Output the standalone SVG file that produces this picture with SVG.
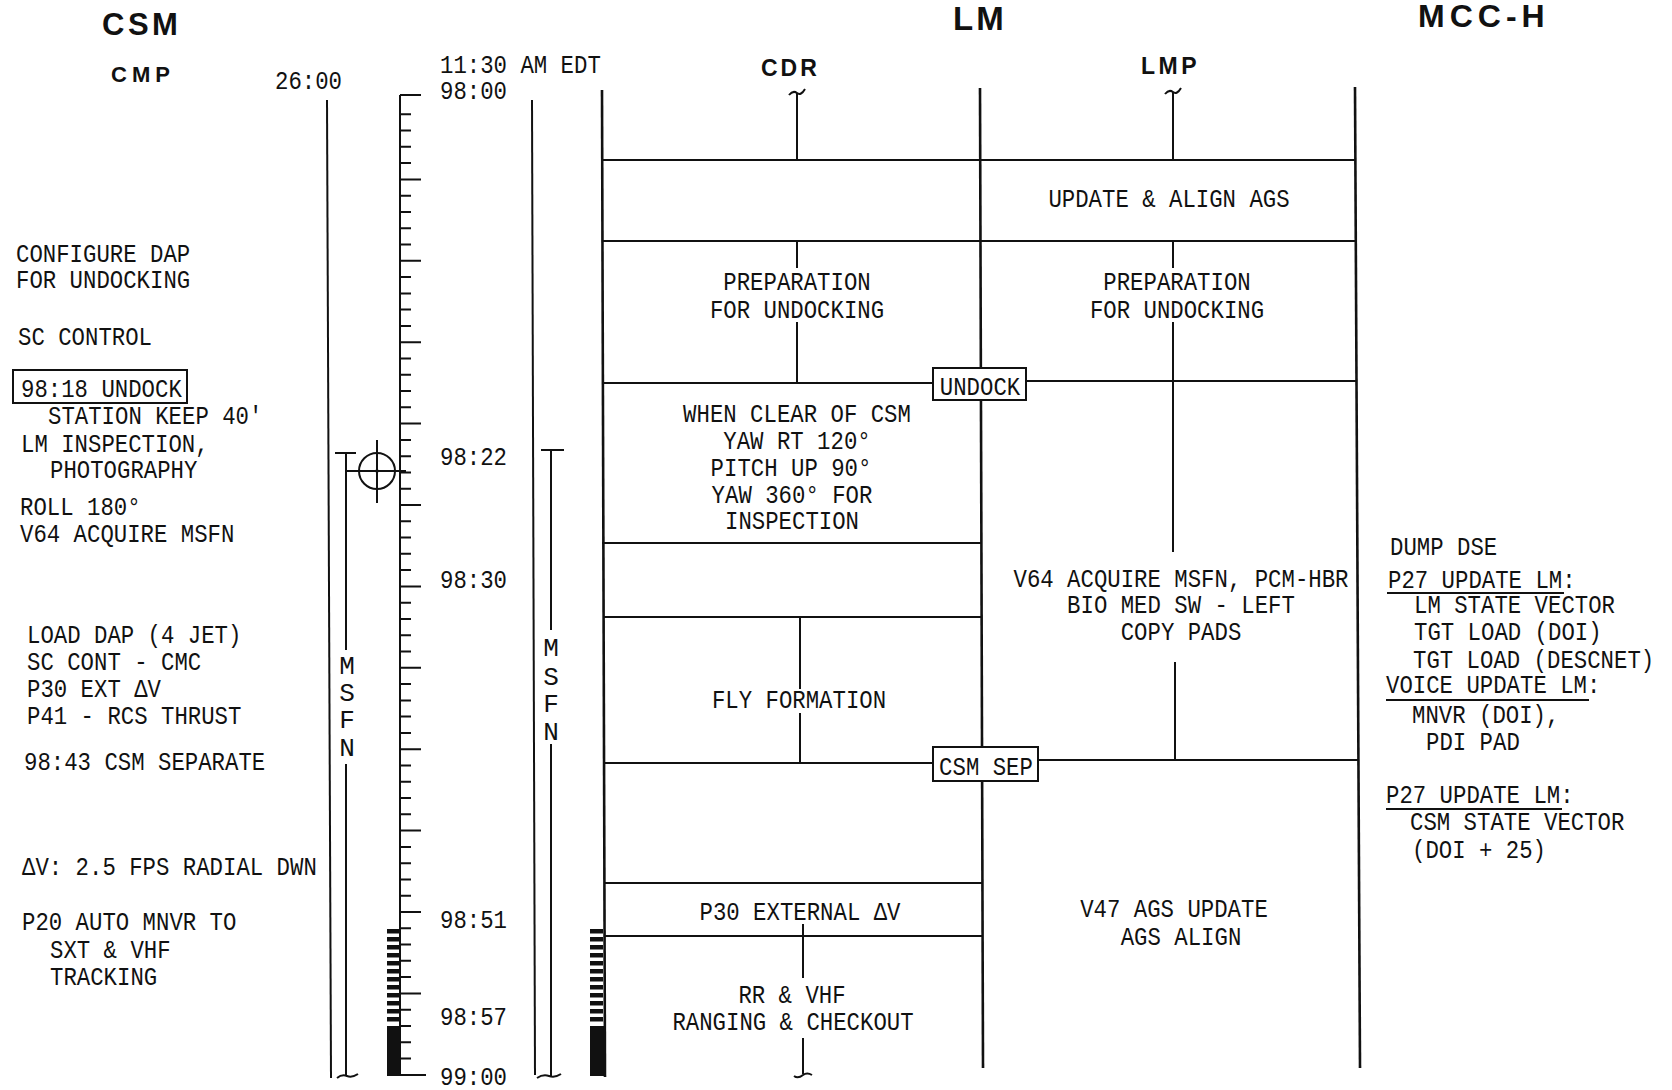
<svg xmlns="http://www.w3.org/2000/svg" width="1672" height="1090" viewBox="0 0 1672 1090">
<style>
.t{font-family:"Liberation Mono","DejaVu Sans Mono",monospace;font-size:26px;fill:#111}
.m{text-anchor:middle}
.h{font-family:"Liberation Sans",Arial,sans-serif;font-weight:bold;fill:#111}
.ln{stroke:#111;stroke-width:2;fill:none}
.bd{stroke:#111;stroke-width:2.6;fill:none}
.box{stroke:#111;stroke-width:2;fill:#fff}
</style>
<defs>
<pattern id="hatch" x="0" y="929" width="20" height="8" patternUnits="userSpaceOnUse">
<rect x="0" y="0" width="20" height="4.5" fill="#111"/>
</pattern>
</defs>
<rect width="1672" height="1090" fill="#fff"/>

<g id="headers">
<text class="h" x="102" y="35" font-size="31" letter-spacing="3.5">CSM</text>
<text class="h" x="953" y="30" font-size="33" letter-spacing="3">LM</text>
<text class="h" x="1418" y="27" font-size="32" letter-spacing="5">MCC-H</text>
<text class="h" x="111" y="82" font-size="22" letter-spacing="5">CMP</text>
<text class="h" x="761" y="76" font-size="23" letter-spacing="3">CDR</text>
<text class="h" x="1141" y="74" font-size="23" letter-spacing="3.5">LMP</text>
</g>

<g id="connectors">
<!-- CSM elapsed time line -->
<path class="ln" d="M327,100 L331,1078"/>
<!-- MSFN bracket 1 -->
<path class="ln" d="M335,453 H356 M346,453 V650 M346,764 V1076 M337,1078 q5,-4 10,-2 q5,2 11,-2"/>
<!-- acquisition circle -->
<circle cx="377" cy="471" r="18" class="ln"/>
<path class="ln" d="M377,440 V503 M346,471 H406" stroke-width="1.5"/>
<circle cx="377" cy="471" r="1.8" fill="#111"/>
<!-- ruler -->
<path class="ln" d="M400,95 V1075 M400,95 H421 M400,1075 H426"/>
<path class="ln" stroke-width="1.8" d="M400,114.3H411M400,130.6H411M400,146.8H411M400,163.1H411M400,179.4H421M400,195.7H411M400,212H411M400,228.2H411M400,244.5H411M400,260.8H421M400,277.1H411M400,293.4H411M400,309.6H411M400,325.9H411M400,342.2H421M400,358.5H411M400,374.8H411M400,391H411M400,407.3H411M400,423.6H421M400,439.9H411M400,456.2H411M400,472.4H411M400,488.7H411M400,505H421M400,521.3H411M400,537.6H411M400,553.8H411M400,570.1H411M400,586.4H421M400,602.7H411M400,619H411M400,635.2H411M400,651.5H411M400,667.8H421M400,684.1H411M400,700.4H411M400,716.6H411M400,732.9H411M400,749.2H421M400,765.5H411M400,781.8H411M400,798H411M400,814.3H411M400,830.6H421M400,846.9H411M400,863.2H411M400,879.4H411M400,895.7H411M400,912H421M400,928.3H411M400,944.6H411M400,960.8H411M400,977.1H411M400,993.4H421M400,1009.7H411M400,1026H411M400,1042.2H411M400,1058.5H411"/>
<rect x="387" y="929" width="13" height="96" fill="url(#hatch)"/>
<rect x="387" y="1026" width="14" height="50" fill="#111"/>
<!-- EDT line -->
<path class="ln" d="M532,100 L535,1075"/>
<!-- MSFN bracket 2 -->
<path class="ln" d="M541,450 H564 M551,450 V630 M551,744 V1076 M537,1078 q6,-4 12,-2 q6,2 12,-2"/>
<!-- LM station bar -->
<rect x="590" y="929" width="13" height="96" fill="url(#hatch)"/>
<rect x="590" y="1026" width="14" height="50" fill="#111"/>
<!-- LM frame -->
<path class="bd" d="M602,90 L605,1077"/>
<path class="bd" d="M980,88 L983,1068"/>
<path class="bd" d="M1355,87 L1360,1068"/>
<!-- horizontal rows -->
<path class="ln" d="M602,160 H1356 M602,241 H1357 M602,383 H933 M1026,381 H1357 M602,543 H981 M603,617 H982 M603,763 H933 M1038,760 H1358 M604,883 H983 M605,936 H983"/>
<!-- CDR activity line -->
<path class="ln" d="M789,95 q4,-5 8,-2 q4,3 8,-4 M797,93 V160 M797,241 V268 M797,322 V383 M800,617 V689 M800,713 V763 M803,924 V978 M803,1038 V1074 M794,1076 q4,3 9,-1 q4,-3 9,0"/>
<!-- LMP activity line -->
<path class="ln" d="M1165,94 q4,-5 8,-2 q4,3 8,-4 M1173,92 V159 M1173,240 V268 M1173,322 V552 M1175,662 V759"/>
</g>

<g id="csm-cmp">
<text class="t" x="16" y="262" textLength="174.2" lengthAdjust="spacingAndGlyphs">CONFIGURE DAP</text>
<text class="t" x="16" y="288" textLength="174.2" lengthAdjust="spacingAndGlyphs">FOR UNDOCKING</text>
<text class="t" x="18" y="345" textLength="134" lengthAdjust="spacingAndGlyphs">SC CONTROL</text>
<rect x="13" y="370" width="174" height="33" fill="none" stroke="#111" stroke-width="2"/>
<text class="t" x="21" y="397" textLength="160.8" lengthAdjust="spacingAndGlyphs">98:18 UNDOCK</text>
<text class="t" x="48" y="424" textLength="214.4" lengthAdjust="spacingAndGlyphs">STATION KEEP 40'</text>
<text class="t" x="21" y="452" textLength="187.6" lengthAdjust="spacingAndGlyphs">LM INSPECTION,</text>
<text class="t" x="50" y="478" textLength="147.4" lengthAdjust="spacingAndGlyphs">PHOTOGRAPHY</text>
<text class="t" x="20" y="515" textLength="120.6" lengthAdjust="spacingAndGlyphs">ROLL 180°</text>
<text class="t" x="20" y="542" textLength="214.4" lengthAdjust="spacingAndGlyphs">V64 ACQUIRE MSFN</text>
<text class="t" x="27" y="643" textLength="214.4" lengthAdjust="spacingAndGlyphs">LOAD DAP (4 JET)</text>
<text class="t" x="27" y="670" textLength="174.2" lengthAdjust="spacingAndGlyphs">SC CONT - CMC</text>
<text class="t" x="27" y="697" textLength="134" lengthAdjust="spacingAndGlyphs">P30 EXT ΔV</text>
<text class="t" x="27" y="724" textLength="214.4" lengthAdjust="spacingAndGlyphs">P41 - RCS THRUST</text>
<text class="t" x="24" y="770" textLength="241.2" lengthAdjust="spacingAndGlyphs">98:43 CSM SEPARATE</text>
<text class="t" x="22" y="875" textLength="294.8" lengthAdjust="spacingAndGlyphs">ΔV: 2.5 FPS RADIAL DWN</text>
<text class="t" x="22" y="930" textLength="214.4" lengthAdjust="spacingAndGlyphs">P20 AUTO MNVR TO</text>
<text class="t" x="50" y="958" textLength="120.6" lengthAdjust="spacingAndGlyphs">SXT &amp; VHF</text>
<text class="t" x="50" y="985" textLength="107.2" lengthAdjust="spacingAndGlyphs">TRACKING</text>
</g>

<g id="time-scale">
<text class="t" x="275" y="89" textLength="67" lengthAdjust="spacingAndGlyphs">26:00</text>
<text class="t" x="440" y="73" textLength="160.8" lengthAdjust="spacingAndGlyphs">11:30 AM EDT</text>
<text class="t" x="440" y="99" textLength="67" lengthAdjust="spacingAndGlyphs">98:00</text>
<text class="t" x="440" y="465" textLength="67" lengthAdjust="spacingAndGlyphs">98:22</text>
<text class="t" x="440" y="588" textLength="67" lengthAdjust="spacingAndGlyphs">98:30</text>
<text class="t" x="440" y="928" textLength="67" lengthAdjust="spacingAndGlyphs">98:51</text>
<text class="t" x="440" y="1025" textLength="67" lengthAdjust="spacingAndGlyphs">98:57</text>
<text class="t" x="440" y="1085" textLength="67" lengthAdjust="spacingAndGlyphs">99:00</text>
<text class="t m" x="347" y="674">M</text>
<text class="t m" x="347" y="701">S</text>
<text class="t m" x="347" y="728">F</text>
<text class="t m" x="347" y="756">N</text>
<text class="t m" x="551" y="656">M</text>
<text class="t m" x="551" y="685">S</text>
<text class="t m" x="551" y="712">F</text>
<text class="t m" x="551" y="740">N</text>
</g>

<g id="lm-cdr">
<text class="t m" x="797" y="290" textLength="147.4" lengthAdjust="spacingAndGlyphs">PREPARATION</text>
<text class="t m" x="797" y="318" textLength="174.2" lengthAdjust="spacingAndGlyphs">FOR UNDOCKING</text>
<text class="t m" x="797" y="422" textLength="227.8" lengthAdjust="spacingAndGlyphs">WHEN CLEAR OF CSM</text>
<text class="t m" x="797" y="449" textLength="147.4" lengthAdjust="spacingAndGlyphs">YAW RT 120°</text>
<text class="t m" x="791" y="476" textLength="160.8" lengthAdjust="spacingAndGlyphs">PITCH UP 90°</text>
<text class="t m" x="792" y="503" textLength="160.8" lengthAdjust="spacingAndGlyphs">YAW 360° FOR</text>
<text class="t m" x="792" y="529" textLength="134" lengthAdjust="spacingAndGlyphs">INSPECTION</text>
<text class="t m" x="799" y="708" textLength="174.2" lengthAdjust="spacingAndGlyphs">FLY FORMATION</text>
<text class="t m" x="800" y="920" textLength="201" lengthAdjust="spacingAndGlyphs">P30 EXTERNAL ΔV</text>
<text class="t m" x="792" y="1003" textLength="107.2" lengthAdjust="spacingAndGlyphs">RR &amp; VHF</text>
<text class="t m" x="793" y="1030" textLength="241.2" lengthAdjust="spacingAndGlyphs">RANGING &amp; CHECKOUT</text>
</g>

<g id="event-undock">
<rect class="box" x="933" y="368" width="93" height="32"/>
<text class="t m" x="980" y="395" textLength="80.4" lengthAdjust="spacingAndGlyphs">UNDOCK</text>
</g>
<g id="event-csm-sep">
<rect class="box" x="933" y="747" width="105" height="34"/>
<text class="t m" x="986" y="775" textLength="93.8" lengthAdjust="spacingAndGlyphs">CSM SEP</text>
</g>

<g id="lm-lmp">
<text class="t m" x="1169" y="207" textLength="241.2" lengthAdjust="spacingAndGlyphs">UPDATE &amp; ALIGN AGS</text>
<text class="t m" x="1177" y="290" textLength="147.4" lengthAdjust="spacingAndGlyphs">PREPARATION</text>
<text class="t m" x="1177" y="318" textLength="174.2" lengthAdjust="spacingAndGlyphs">FOR UNDOCKING</text>
<text class="t m" x="1181" y="587" textLength="335" lengthAdjust="spacingAndGlyphs">V64 ACQUIRE MSFN, PCM-HBR</text>
<text class="t m" x="1181" y="613" textLength="227.8" lengthAdjust="spacingAndGlyphs">BIO MED SW - LEFT</text>
<text class="t m" x="1181" y="640" textLength="120.6" lengthAdjust="spacingAndGlyphs">COPY PADS</text>
<text class="t m" x="1174" y="917" textLength="187.6" lengthAdjust="spacingAndGlyphs">V47 AGS UPDATE</text>
<text class="t m" x="1181" y="945" textLength="120.6" lengthAdjust="spacingAndGlyphs">AGS ALIGN</text>
</g>

<g id="mcc-h">
<text class="t" x="1390" y="555" textLength="107.2" lengthAdjust="spacingAndGlyphs">DUMP DSE</text>
<text class="t" x="1388" y="588" textLength="187.6" lengthAdjust="spacingAndGlyphs">P27 UPDATE LM:</text>
<path class="ln" stroke-width="1.6" d="M1387,593 H1564"/>
<text class="t" x="1414" y="613" textLength="201" lengthAdjust="spacingAndGlyphs">LM STATE VECTOR</text>
<text class="t" x="1414" y="640" textLength="187.6" lengthAdjust="spacingAndGlyphs">TGT LOAD (DOI)</text>
<text class="t" x="1413" y="668" textLength="241.2" lengthAdjust="spacingAndGlyphs">TGT LOAD (DESCNET)</text>
<text class="t" x="1386" y="693" textLength="214.4" lengthAdjust="spacingAndGlyphs">VOICE UPDATE LM:</text>
<path class="ln" stroke-width="1.6" d="M1386,700 H1589"/>
<text class="t" x="1412" y="723" textLength="147.4" lengthAdjust="spacingAndGlyphs">MNVR (DOI),</text>
<text class="t" x="1426" y="750" textLength="93.8" lengthAdjust="spacingAndGlyphs">PDI PAD</text>
<text class="t" x="1386" y="803" textLength="187.6" lengthAdjust="spacingAndGlyphs">P27 UPDATE LM:</text>
<path class="ln" stroke-width="1.6" d="M1386,809 H1562"/>
<text class="t" x="1410" y="830" textLength="214.4" lengthAdjust="spacingAndGlyphs">CSM STATE VECTOR</text>
<text class="t" x="1412" y="858" textLength="134" lengthAdjust="spacingAndGlyphs">(DOI + 25)</text>
</g>
</svg>
